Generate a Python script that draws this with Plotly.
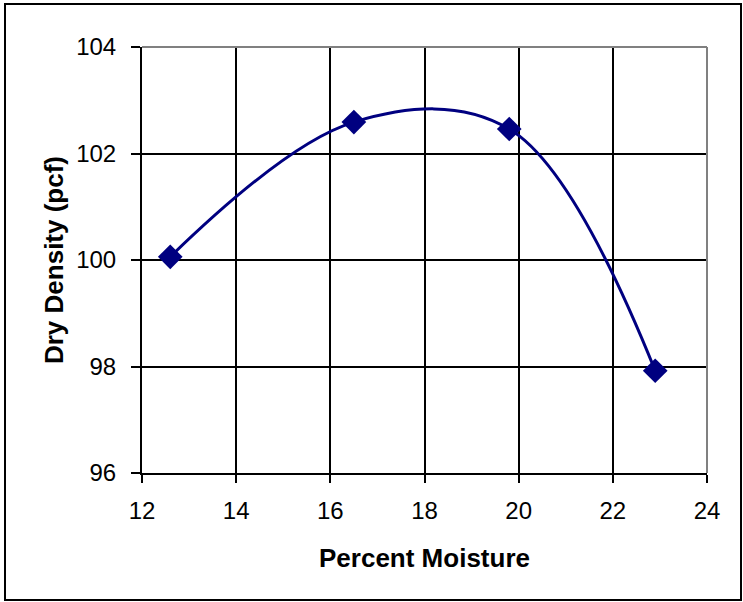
import plotly.graph_objects as go

moisture = [12.6, 16.5, 19.8, 22.9]
dry_density = [100.06, 102.59, 102.46, 97.92]

x_ticks = [12, 14, 16, 18, 20, 22, 24]
y_ticks = [96, 98, 100, 102, 104]

W, H = 743, 602
L, R, T, B = 142, 36, 47, 129
pw, ph = W - L - R, H - T - B

def px(xpix):
    return (xpix - L) / pw

def py(ypix):
    return (H - B - ypix) / ph

fig = go.Figure()
fig.add_trace(go.Scatter(
    x=moisture, y=dry_density, mode="lines+markers",
    line=dict(color="#000080", width=3, shape="spline", smoothing=1.05),
    marker=dict(symbol="diamond", size=19, color="#000080"),
    showlegend=False, cliponaxis=False,
))

font = "Liberation Sans, Arial, sans-serif"
fig.update_layout(
    width=W, height=H,
    margin=dict(l=L, r=R, t=T, b=B, pad=0),
    paper_bgcolor="white", plot_bgcolor="white",
    font=dict(family=font, color="black", size=24),
    xaxis=dict(
        range=[12, 24], tickvals=x_ticks, ticktext=[str(v) for v in x_ticks],
        showgrid=True, gridcolor="black", gridwidth=2,
        showline=True, linecolor="black", linewidth=2,
        ticks="outside", ticklen=8, tickwidth=2, tickcolor="black",
        tickfont=dict(size=24), ticklabelstandoff=7,
        zeroline=False,
        title=dict(text="<b>Percent Moisture</b>", font=dict(size=26), standoff=26),
    ),
    yaxis=dict(
        range=[96, 104], tickvals=y_ticks, ticktext=[str(v) for v in y_ticks],
        showgrid=True, gridcolor="black", gridwidth=2,
        showline=True, linecolor="black", linewidth=2,
        ticks="outside", ticklen=9, tickwidth=2, tickcolor="black",
        tickfont=dict(size=24), ticklabelstandoff=10,
        zeroline=False,
        title=dict(text="<b>Dry Density (pcf)</b>", font=dict(size=26), standoff=5),
    ),
    shapes=[
        dict(type="line", xref="paper", yref="paper", x0=0, x1=1, y0=1, y1=1,
             line=dict(color="#808080", width=2), layer="above"),
        dict(type="line", xref="paper", yref="paper", x0=1, x1=1, y0=0, y1=1,
             line=dict(color="#808080", width=2), layer="above"),
        dict(type="rect", xref="paper", yref="paper",
             x0=px(5), x1=px(741), y0=py(600), y1=py(4),
             line=dict(color="black", width=2), layer="above"),
    ],
)

fig.write_html(
    "out.html",
    config={"displayModeBar": False},
    post_script="document.body.style.margin='0';document.body.style.overflow='hidden';",
)
